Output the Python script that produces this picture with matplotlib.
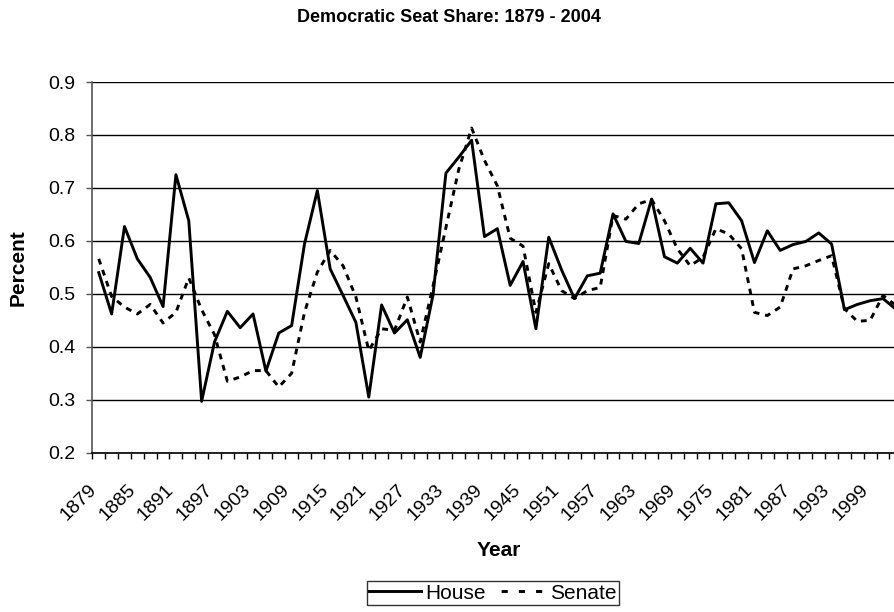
import matplotlib
matplotlib.use('Agg')
import matplotlib.pyplot as plt
import matplotlib.transforms as mtransforms
from matplotlib.lines import Line2D

plt.rcParams['font.family'] = ['Liberation Sans', 'DejaVu Sans']

# congress years, every 2 years
years = list(range(1879, 2005, 2))

house = [0.540, 0.462, 0.627, 0.566, 0.531, 0.476, 0.725, 0.638, 0.297, 0.409,
         0.467, 0.436, 0.462, 0.354, 0.426, 0.440, 0.594, 0.695, 0.547, 0.497,
         0.446, 0.305, 0.479, 0.426, 0.451, 0.380, 0.498, 0.728, 0.758, 0.790,
         0.608, 0.623, 0.516, 0.561, 0.434, 0.607, 0.545, 0.491, 0.534, 0.539,
         0.651, 0.599, 0.595, 0.679, 0.570, 0.558, 0.586, 0.558, 0.670, 0.672,
         0.638, 0.559, 0.619, 0.582, 0.593, 0.599, 0.615, 0.594, 0.470, 0.480,
         0.487, 0.491, 0.471]

senate = [0.566, 0.495, 0.475, 0.462, 0.480, 0.445, 0.465, 0.530, 0.470, 0.423,
          0.335, 0.343, 0.355, 0.355, 0.324, 0.350, 0.465, 0.541, 0.582, 0.553,
          0.494, 0.393, 0.434, 0.431, 0.494, 0.409, 0.515, 0.625, 0.735, 0.813,
          0.752, 0.704, 0.605, 0.590, 0.465, 0.557, 0.506, 0.491, 0.506, 0.512,
          0.648, 0.641, 0.670, 0.678, 0.638, 0.585, 0.553, 0.569, 0.623, 0.613,
          0.585, 0.465, 0.459, 0.475, 0.547, 0.553, 0.563, 0.572, 0.472, 0.448,
          0.450, 0.497, 0.478]

label_years = years[::3][:41]
y_ticks = [0.2, 0.3, 0.4, 0.5, 0.6, 0.7, 0.8, 0.9]

fig = plt.figure(figsize=(8.94, 6.12), dpi=100)
ax = fig.add_axes([0.1033, 0.2603, 0.906, 0.6057])

ax.plot(years, house, color='black', lw=2.1)
ax.plot(years, senate, color='black', lw=2.1, linestyle=(0, (2, 2)))

ax.set_xlim(1878, 2004)
ax.set_ylim(0.2, 0.9)

# ticks between categories, labels on every 3rd category
ax.set_xticks([y - 1 for y in years] + [2004])
ax.set_xticklabels([])
ax.set_xticks(label_years, minor=True)
ax.set_xticklabels([str(y) for y in label_years], minor=True, rotation=45,
                   ha='right', va='center', rotation_mode='anchor', fontsize=14)
ax.tick_params(axis='x', which='major', direction='out', length=4, width=1, color='black')
ax.tick_params(axis='x', which='minor', length=0, pad=25)
shift = mtransforms.ScaledTranslation(-4.7 / 100, 0, fig.dpi_scale_trans)
for lab in ax.get_xticklabels(minor=True):
    lab.set_transform(lab.get_transform() + shift)

ax.set_yticks(y_ticks)
ax.set_yticklabels(['%.1f' % v for v in y_ticks], fontsize=14)
ax.tick_params(axis='y', direction='out', length=4, width=1, color='#555555', pad=8.4)

ax.yaxis.grid(True, color='black', linewidth=1)
ax.set_axisbelow(True)

for s in ['top', 'right']:
    ax.spines[s].set_visible(False)
ax.spines['left'].set_color('#555555')
ax.spines['left'].set_linewidth(1.2)
ax.spines['bottom'].set_color('black')
ax.spines['bottom'].set_linewidth(1.2)

fig.text(0.502, 0.971, 'Democratic Seat Share: 1879 - 2004', ha='center', va='center',
         fontsize=13, fontweight='bold')
fig.text(0.02, 0.563, 'Percent', rotation=90, ha='center', va='center',
         fontsize=15, fontweight='bold')
fig.text(0.558, 0.101, 'Year', ha='center', va='center', fontsize=15, fontweight='bold')

handles = [Line2D([], [], color='black', lw=2.1),
           Line2D([], [], color='black', lw=2.1, linestyle=(3.45, (2.1, 3.8)))]
leg = fig.legend(handles, ['House', 'Senate'], loc='center', bbox_to_anchor=(0.551, 0.031),
                 ncol=2, frameon=True, fancybox=False, edgecolor='black', fontsize=15,
                 handlelength=2.5, handletextpad=0.2, columnspacing=0.4,
                 borderpad=0.1, borderaxespad=0)
leg.get_frame().set_linewidth(1.0)

fig.savefig('out.png', dpi=100)
